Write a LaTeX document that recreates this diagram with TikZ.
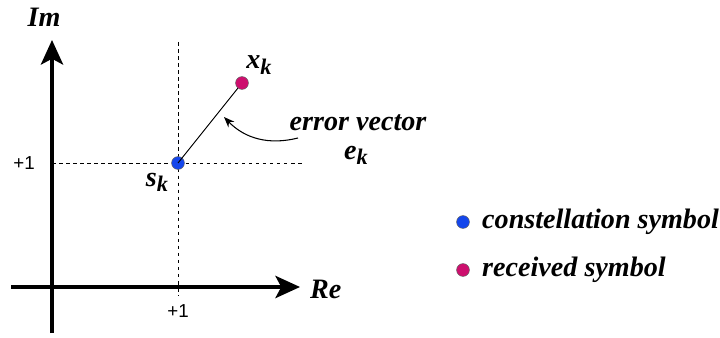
\documentclass[tikz,border=0pt]{standalone}
\usepackage{fontspec}
\setmainfont{Liberation Serif}
\newfontfamily\tickfont{Liberation Sans}
\usetikzlibrary{arrows.meta}
\definecolor{constblue}{RGB}{20,70,235}
\definecolor{recvred}{RGB}{205,15,110}
\newcommand{\lblfont}{\fontsize{24}{26}\selectfont\bfseries\itshape}
\newcommand{\symsub}[2]{#1\raisebox{-0.4ex}{\fontsize{19}{21}\selectfont #2}}

\begin{document}
\begin{tikzpicture}[x=0.03cm,y=-0.03cm]
\tikzstyle{axis}=[line width=3pt,-{Stealth[length=21pt,width=19pt,inset=5pt]}]
\tikzstyle{grid}=[dashed,line width=0.6pt]
\tikzstyle{dot}=[circle,draw=black!60,line width=0.4pt,minimum size=11pt,inner sep=0pt]
\tikzstyle{lbl}=[font=\lblfont,inner sep=0pt]
\tikzstyle{tick}=[font=\tickfont\fontsize{16}{18}\selectfont,inner sep=0pt]
\useasboundingbox (0,0) rectangle (720,338);
% axes
\coordinate (ybot) at (52,333);
\coordinate (ytop) at (52,40);
\coordinate (xleft) at (11,287);
\coordinate (xright) at (300,287);
\draw[axis] (ybot) -- (ytop);
\draw[axis] (xleft) -- (xright);
\node[lbl] (im) at (44,17) {Im};
\node[lbl,anchor=west] (re) at (310,289) {Re};
% dashed guides
\coordinate (gtop) at (178,42);
\coordinate (gbot) at (178,296);
\coordinate (gleft) at (52,163);
\coordinate (gright) at (302,163);
\draw[grid] (gtop) -- (gbot);
\draw[grid] (gleft) -- (gright);
\node[tick] (t1x) at (178,311) {+1};
\node[tick] (t1y) at (24,163) {+1};
% symbols
\node[dot,fill=constblue] (s) at (178,163) {};
\node[dot,fill=recvred] (x) at (242,83) {};
\draw[line width=0.8pt] (s.center) -- (x);
\node[lbl] (slbl) at (157,182) {\symsub{s}{k}};
\node[lbl] (xlbl) at (259,65) {\symsub{x}{k}};
\node[lbl] (err) at (358,123) {error vector};
\node[lbl] (elbl) at (356,155) {\symsub{e}{k}};
\coordinate (arrstart) at (298,138);
\coordinate (arrend) at (224,117);
\path (arrstart) edge[bend left=30,line width=0.9pt,-{Stealth[length=9pt,width=7pt]}] (arrend);
% legend
\node[dot,fill=constblue] (lg1) at (463,222) {};
\node[lbl,anchor=west] (lg1t) at (482,222) {constellation symbol};
\node[dot,fill=recvred] (lg2) at (463,270) {};
\node[lbl,anchor=west] (lg2t) at (482,270) {received symbol};
\end{tikzpicture}
\end{document}
